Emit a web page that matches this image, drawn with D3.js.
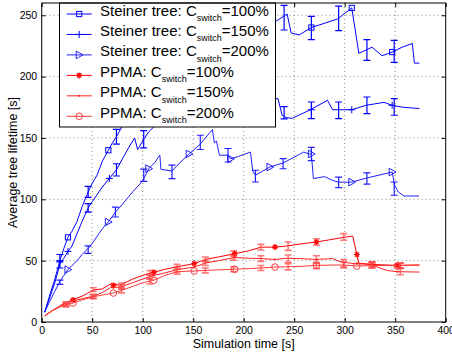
<!DOCTYPE html>
<html>
<head>
  <title>Average tree lifetime</title>
  <script src="https://d3js.org/d3.v7.min.js"></script>
  <style>
    body { margin: 0; background: #fff; }
    text { font-family: "Liberation Sans", Arial, Helvetica, sans-serif; }
    .grid line { stroke: #888; stroke-width: 1; stroke-dasharray: 1, 3; }
    .axis path { display: none; }
    .axis line { stroke: #000; }
    .axis text { font-size: 10.5px; fill: #000; }
  </style>
</head>
<body>
  <div id="chart"></div>

  <script>
    // [time, lifetime] points
    const steiner100 = [[3,8],[8,22],[13,35],[18,50],[22,60],[26,69],[30,74],[35,82],[40,94],[46,106],[50,113],[55,120],[60,131],[66,140],[70,146],[74,151],[80,160],[86,167],
      [95,172],[110,185],[125,195],[140,205],[155,212],[170,220],[185,226],[200,232],[215,238],[226,242],[243,251],[247,235.5],[255,234],[267,240],[293,247],[307,256],
      [314,219],[322,222],[327,224],[337,217],[347,220],[357,224],[367,227],[369,211],[374,211]];
    const steiner150 = [[3,8],[8,20],[13,32],[18,47],[22,52],[26,57.6],[30,62],[35,72],[40,82],[46,93],[50,98],[55,104],[60,110],[67,117],[74,124],[80,133],[86,142],[92,150],
      [95,140.5],[101,149],[106,155],[111,159],[125,165],[140,170],[155,174],[170,176],[185,178],[200,180],[215,182],[234,182],[238,168.5],[242,166.6],[248,166],[266,173],
      [283,180.7],[288,173],[294,173],[307,173],[321,176.6],[339,179],[347,176.6],[358,175],[374,174]];
    const steiner200 = [[3,8],[8,17],[13,25],[18,33],[22,38],[26,42.7],[30,46],[35,50],[40,55],[46,60],[50,64],[55,70],[60,76],[66,81.5],[73,89.6],[80,96],[90,106],[100,115],
      [106,125],[112,130],[117,136],[118,124.5],[129,123],[137,130],[146,137],[157,145],[169,156.8],[171,146],[173,147.5],[176,135.9],[184.5,136],[187,133],[195,135],
      [206.7,138.5],[209,122.8],[211.6,119.6],[225.8,126.3],[239,129.6],[259.5,138.5],[264.5,137],[267,137],[269,116.9],[280,118.5],[287.7,115.5],[294,114],[307,114],
      [322,117.4],[347,122.2],[349.5,111.4],[353,106],[358.7,102.7],[373.6,102.7]];
    const ppma100 = [[3,5],[10,9],[20,14],[30,18],[40,21],[51,26],[60,27],[68,31],[78,30],[90,35],[100,38],[111,40.5],[122,43],[134,45],[151,47.6],[162,51],[175,53],[191,55.7],
      [205,58],[217,61],[231,61],[243,62],[260,64],[272,65.2],[285,67],[299,69],[308,70],[312,55],[314,48],[325,47],[340,46.5],[352,46.2],[374,46.5]];
    const ppma150 = [[3,5],[10,9],[20,14],[30,17],[40,19],[51,21],[60,24],[68,28],[78,28.5],[90,32],[100,35],[111,38],[122,40],[134,42.7],[151,44.8],[162,48],[175,50],[191,52.5],
      [205,52],[217,51.7],[231,51],[243,52],[260,51.5],[272,51],[288,51.7],[296,49],[310,47.5],[325,47],[335,44],[342,42],[352,41],[374,40.7]];
    const ppma200 = [[3,5],[10,9],[20,13],[31,15.5],[40,18],[51,20.5],[60,22],[71,23.6],[80,26],[90,29],[100,32],[111,34],[122,38],[134,41],[151,41.6],[162,42],[175,42.5],[191,43],
      [205,43.5],[217,44],[231,44.8],[243,45],[260,45.5],[272,46.2],[299,46.5],[312,45.6],[325,46],[352,46],[374,46.3]];

    // error bars: [time, mean, half width]
    const steiner100Err = [[18,52,3],[46,106,4.5],[74,151,6],[240,248,10],[267,239.6,9.5],[294,247.5,10],[322,221.7,8.5],[349,220.6,9]];
    const steiner150Err = [[18,47,3],[46,93,3.5],[74,124,5],[101,149,7],[240,170.5,5],[267,172.5,6.8],[294,172.5,6.8],[322,176.6,6.8],[349,175.3,6.8]];
    const steiner200Err = [[18,32.4,1.8],[46,59,3],[73,89.6,4],[101,119.6,5],[129,122.3,5.5],[157,146.4,5.8],[184.5,135.9,5.5],[211.6,118.9,4.8],[239,129,4.1],
      [267,137,5.4],[294,113.8,4.3],[322,117,4.6],[349,108.7,5.4]];
    const ppma100Err = [[24,15,1.5],[51,26.4,1.5],[79,30,1.8],[107,40,2],[134,45,2],[162,51,2],[190,55.7,2.2],[217,61,2.3],[244,61.8,3.4],[272,65.2,2.7],[299,69.3,2.7],[327,47,2],[355,46,2]];
    const ppma150Err = [[24,14,1.5],[51,21,1.5],[79,28.5,1.8],[107,37,2],[134,42.7,2],[162,48,2],[190,52.5,2.2],[217,51.7,2.3],[244,51.6,3],[272,51,3],[299,48,3],[327,46.5,2.5],[355,41,2.5]];
    const ppma200Err = [[24,14,1.5],[51,20.5,1.5],[79,25.5,1.8],[107,33,2],[134,41,2],[162,42,2],[190,43,2],[217,44,2],[244,45,2.5],[272,46,2.5],[299,46.5,2.5],[327,46,2],[355,46,2]];

    // marker positions
    const steiner100Marks = [[26,69],[66,140],[267,240],[307,256],[347,220]];
    const steiner150Marks = [[26,57.6],[67,117],[267,173],[307,173],[347,176.6]];
    const steiner200Marks = [[26,42.7],[66,81.5],[106,125],[146,137],[187,133],[226,126.3],[267,137],[307,114],[347,122.2]];
    const ppma100Marks = [[31,18],[71,30],[111,40.5],[151,47.6],[191,55.7],[231,61.1],[272,65.2],[312,55],[352,46.2]];
    const ppma150Marks = [[31,17],[71,28],[111,38],[151,44.8],[191,52.5],[231,51],[272,51],[312,47.5],[352,41]];
    const ppma200Marks = [[31,15.5],[71,23.6],[111,34],[151,41.6],[191,43],[231,44.8],[272,46.2],[312,45.6],[352,45.6]];

    const legendNames = ["Steiner tree: C", "Steiner tree: C", "Steiner tree: C", "PPMA: C", "PPMA: C", "PPMA: C"];
    const legendSuffix = ["=100%", "=150%", "=200%", "=100%", "=150%", "=200%"];
    const xTicks = [0, 50, 100, 150, 200, 250, 300, 350, 400];
    const yTicks = [0, 50, 100, 150, 200, 250];

    const series = [
      { line: steiner100, err: steiner100Err, marks: steiner100Marks, color: "#0000ff", errColor: "#0000ff", marker: "square" },
      { line: steiner150, err: steiner150Err, marks: steiner150Marks, color: "#0000ff", errColor: "#0000ff", marker: "plus" },
      { line: steiner200, err: steiner200Err, marks: steiner200Marks, color: "#2020ff", errColor: "#2020ff", marker: "triangle" },
      { line: ppma100, err: ppma100Err, marks: ppma100Marks, color: "#ff0000", errColor: "#ff4040", marker: "asterisk" },
      { line: ppma150, err: ppma150Err, marks: ppma150Marks, color: "#ff2020", errColor: "#ff4040", marker: "dot" },
      { line: ppma200, err: ppma200Err, marks: ppma200Marks, color: "#ff3a3a", errColor: "#ff4040", marker: "circle" }
    ];

    const W = 452, H = 360;
    const plotLeft = 41.7, plotRight = 445.7, plotTop = 3, plotBottom = 322;

    const svg = d3.select("#chart")
      .append("svg")
        .attr("width", W)
        .attr("height", H);

    const x = d3.scaleLinear().domain([0, 400]).range([plotLeft, plotRight]);
    const y = d3.scaleLinear().domain([0, 260]).range([plotBottom, plotTop]);

    // grid
    const grid = svg.append("g").attr("class", "grid");
    grid.selectAll(".gx").data(xTicks.slice(1, -1)).enter().append("line")
      .attr("x1", d => x(d)).attr("x2", d => x(d)).attr("y1", plotTop).attr("y2", plotBottom);
    grid.selectAll(".gy").data(yTicks.slice(1)).enter().append("line")
      .attr("x1", plotLeft).attr("x2", plotRight).attr("y1", d => y(d)).attr("y2", d => y(d));

    // axes with inward ticks, matlab style
    svg.append("g").attr("class", "axis")
      .attr("transform", `translate(0, ${plotBottom})`)
      .call(d3.axisBottom(x).tickValues(xTicks).tickSize(-4).tickSizeOuter(0).tickPadding(5));
    svg.append("g").attr("class", "axis")
      .attr("transform", `translate(${plotLeft}, 0)`)
      .call(d3.axisLeft(y).tickValues(yTicks).tickSize(-4).tickSizeOuter(0).tickPadding(4.5));
    svg.append("g").attr("class", "axis")
      .attr("transform", `translate(0, ${plotTop})`)
      .call(d3.axisTop(x).tickValues(xTicks).tickSize(-4).tickSizeOuter(0).tickFormat(""));
    svg.append("g").attr("class", "axis")
      .attr("transform", `translate(${plotRight}, 0)`)
      .call(d3.axisRight(y).tickValues(yTicks).tickSize(-4).tickSizeOuter(0).tickFormat(""));

    const line = d3.line().x(d => x(d[0])).y(d => y(d[1]));

    function drawMarker(g, type, cx, cy, color) {
      if (type === "square") {
        g.append("rect").attr("x", cx - 2.6).attr("y", cy - 2.6).attr("width", 5.2).attr("height", 5.2)
          .attr("fill", "none").attr("stroke", color);
      } else if (type === "plus") {
        g.append("path").attr("d", `M${cx - 3.5},${cy}H${cx + 3.5}M${cx},${cy - 3.5}V${cy + 3.5}`)
          .attr("stroke", color);
      } else if (type === "triangle") {
        g.append("path").attr("d", `M${cx - 3},${cy - 3.8}L${cx + 3.8},${cy}L${cx - 3},${cy + 3.8}Z`)
          .attr("fill", "none").attr("stroke", color);
      } else if (type === "asterisk") {
        const r = 3;
        g.append("path")
          .attr("d", `M${cx - r},${cy}H${cx + r}M${cx},${cy - r}V${cy + r}` +
            `M${cx - r * 0.7},${cy - r * 0.7}L${cx + r * 0.7},${cy + r * 0.7}M${cx - r * 0.7},${cy + r * 0.7}L${cx + r * 0.7},${cy - r * 0.7}`)
          .attr("stroke", color).attr("stroke-width", 1.2);
      } else if (type === "dot") {
        g.append("circle").attr("cx", cx).attr("cy", cy).attr("r", 1).attr("fill", color);
      } else if (type === "circle") {
        g.append("circle").attr("cx", cx).attr("cy", cy).attr("r", 3.3)
          .attr("fill", "none").attr("stroke", color);
      }
    }

    const plot = svg.append("g");
    series.forEach(s => {
      const g = plot.append("g");
      g.append("path").datum(s.line)
        .attr("d", line)
        .attr("fill", "none")
        .attr("stroke", s.color)
        .attr("stroke-width", 1);

      const red = s.marker === "asterisk" || s.marker === "dot" || s.marker === "circle";
      const eg = g.append("g")
        .attr("stroke", s.errColor)
        .attr("stroke-width", red ? 1.6 : 1.2)
        .attr("opacity", red ? 0.7 : 1);
      s.err.forEach(e => {
        const cx = x(e[0]), y0 = y(e[1] - e[2]), y1 = y(e[1] + e[2]);
        eg.append("path").attr("d", `M${cx},${y0}V${y1}M${cx - 3.5},${y0}H${cx + 3.5}M${cx - 3.5},${y1}H${cx + 3.5}`)
          .attr("fill", "none");
      });

      s.marks.forEach(m => drawMarker(g, s.marker, x(m[0]), y(m[1]), s.color));
    });

    // legend
    const lg = svg.append("g");
    lg.append("rect")
      .attr("x", 59.5).attr("y", 3).attr("width", 216).attr("height", 124)
      .attr("fill", "#fff").attr("stroke", "#000");
    series.forEach((s, i) => {
      const ly = 14 + i * 20.46;
      lg.append("line").attr("x1", 66.7).attr("x2", 91.7).attr("y1", ly).attr("y2", ly)
        .attr("stroke", s.color);
      drawMarker(lg, s.marker, 79.2, ly, s.color);
      const t = lg.append("text").attr("x", 100).attr("y", ly + 1.5).attr("font-size", "15px");
      t.append("tspan").text(legendNames[i]);
      t.append("tspan").attr("font-size", "9px").attr("dy", 5.5).text("switch");
      t.append("tspan").attr("dy", -5.5).text(legendSuffix[i]);
    });

    // frame
    svg.append("rect")
      .attr("x", plotLeft).attr("y", plotTop).attr("width", plotRight - plotLeft).attr("height", plotBottom - plotTop)
      .attr("fill", "none").attr("stroke", "#000");

    // axis titles
    svg.append("text")
      .attr("x", (plotLeft + plotRight) / 2)
      .attr("y", 348)
      .attr("text-anchor", "middle")
      .attr("font-size", "12.5px")
      .text("Simulation time [s]");

    svg.append("text")
      .attr("transform", `translate(16.5, ${(plotTop + plotBottom) / 2}) rotate(-90)`)
      .attr("text-anchor", "middle")
      .attr("font-size", "12.5px")
      .text("Average tree lifetime [s]");
  </script>
</body>
</html>
